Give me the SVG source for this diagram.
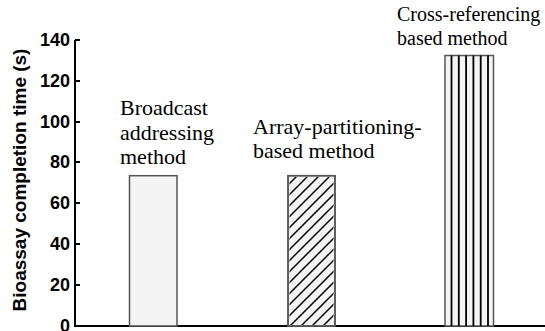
<svg xmlns="http://www.w3.org/2000/svg" width="545" height="331" viewBox="0 0 545 331">
  <defs>
    <pattern id="hatch" patternUnits="userSpaceOnUse" x="0" y="0" width="11" height="11">
      <path d="M-1,12 L12,-1 M-1,1 L1,-1 M10,12 L12,10" stroke="#000" stroke-width="1.5"/>
    </pattern>
    <style>
      .tick { font-family: "Liberation Sans", Arial, sans-serif; font-weight: bold; font-size: 18px; fill: #000; text-anchor: end; }
      .ylab { font-family: "Liberation Sans", Arial, sans-serif; font-weight: bold; font-size: 19px; fill: #000; text-anchor: middle; }
      .lab { font-family: "Liberation Serif", "Times New Roman", serif; font-size: 22px; fill: #000; }
      .lab2 { font-family: "Liberation Serif", "Times New Roman", serif; font-size: 20px; fill: #000; }
      .bar { fill: #f4f4f4; stroke: #555; stroke-width: 1.5; }
      .axis { stroke: #000; stroke-width: 2; fill: none; }
      .vl { stroke: #000; stroke-width: 1.8; }
    </style>
  </defs>
  <rect width="545" height="331" fill="#fff"/>

  <g id="axes">
    <path class="axis" d="M75,40 V326 H545"/>
    <path class="axis" d="M75,40 H80 M75,81 H80 M75,122 H80 M75,162 H80 M75,203 H80 M75,244 H80 M75,285 H80"/>
    <text class="tick" x="70" y="46">140</text>
    <text class="tick" x="70" y="87">120</text>
    <text class="tick" x="70" y="128">100</text>
    <text class="tick" x="70" y="168">80</text>
    <text class="tick" x="70" y="209">60</text>
    <text class="tick" x="70" y="250">40</text>
    <text class="tick" x="70" y="291">20</text>
    <text class="tick" x="70" y="332">0</text>
    <text class="ylab" transform="translate(26,180) rotate(-90)">Bioassay completion time (s)</text>
  </g>

  <g id="bar-broadcast">
    <rect class="bar" x="129.5" y="175.7" width="47.5" height="150.3"/>
    <text class="lab" x="120" y="115">Broadcast</text>
    <text class="lab" x="120" y="139.5">addressing</text>
    <text class="lab" x="120" y="164">method</text>
  </g>

  <g id="bar-array">
    <rect class="bar" x="288" y="175.7" width="47" height="150.3"/>
    <rect x="289.5" y="177" width="44" height="148" fill="url(#hatch)"/>
    <rect x="288" y="175.7" width="47" height="150.3" fill="none" stroke="#555" stroke-width="1.5"/>
    <text class="lab" x="253" y="134">Array-partitioning-</text>
    <text class="lab" x="253" y="158">based method</text>
  </g>

  <g id="bar-cross">
    <rect class="bar" x="445" y="55.5" width="48.5" height="270.5"/>
    <path class="vl" d="M451.5,55.5 V326 M458.8,55.5 V326 M466.1,55.5 V326 M473.4,55.5 V326 M480.7,55.5 V326 M488,55.5 V326"/>
    <text class="lab2" x="397" y="21">Cross-referencing</text>
    <text class="lab2" x="397" y="45">based method</text>
  </g>
</svg>
